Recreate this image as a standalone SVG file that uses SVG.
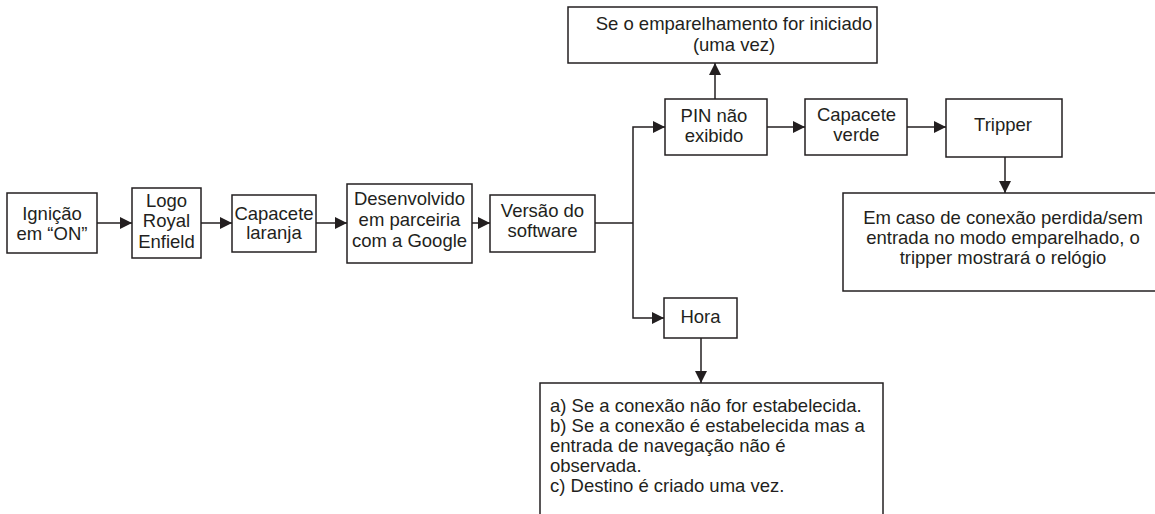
<svg xmlns="http://www.w3.org/2000/svg" width="1155" height="514" viewBox="0 0 1155 514">
<defs>
<marker id="ah" markerUnits="userSpaceOnUse" markerWidth="12" markerHeight="12" refX="12" refY="6" orient="auto">
<path d="M0,0 L12,6 L0,12 z" fill="#231f20"/>
</marker>
<style>
rect{fill:#fff;stroke:#231f20;stroke-width:1.5}
text{font-family:"Liberation Sans",Arial,sans-serif;font-size:18.5px;fill:#231f20}
.c{text-anchor:middle}
#connectors path{fill:none;stroke:#231f20;stroke-width:1.5}
.a{marker-end:url(#ah)}
</style>
</defs>
<rect x="0" y="0" width="1155" height="514" style="fill:#fff;stroke:none"/>
<g id="connectors">
<path class="a" d="M97,223 H132"/>
<path class="a" d="M201,223 H232"/>
<path class="a" d="M316,223 H347"/>
<path class="a" d="M472,223 H490"/>
<path d="M595,223 H633"/>
<path class="a" d="M633,223 V127 H665"/>
<path class="a" d="M633,223 V318 H664"/>
<path class="a" d="M715,99 V63"/>
<path class="a" d="M767,127 H805"/>
<path class="a" d="M907,127 H946"/>
<path class="a" d="M1005,157 V193"/>
<path class="a" d="M701,338 V383"/>
</g>
<g id="n1"><rect x="7" y="193" width="90" height="60"/><text class="c" x="52" y="220">Ignição</text><text class="c" x="52" y="240">em “ON”</text></g>
<g id="n2"><rect x="132" y="188" width="69" height="70"/><text class="c" x="166.5" y="206.5">Logo</text><text class="c" x="166.5" y="227">Royal</text><text class="c" x="166.5" y="247.5">Enfield</text></g>
<g id="n3"><rect x="232" y="195" width="84" height="57"/><text class="c" x="274" y="219.5">Capacete</text><text class="c" x="274" y="238.5">laranja</text></g>
<g id="n4"><rect x="347" y="184" width="125" height="79"/><text class="c" x="409.5" y="205">Desenvolvido</text><text class="c" x="409.5" y="226">em parceiria</text><text class="c" x="409.5" y="246.5">com a Google</text></g>
<g id="n5"><rect x="490" y="195" width="105" height="57"/><text class="c" x="542.5" y="217">Versão do</text><text class="c" x="542.5" y="237">software</text></g>
<g id="n6"><rect x="568" y="7" width="309" height="56"/><text class="c" x="734" y="30">Se o emparelhamento for iniciado</text><text class="c" x="734" y="51">(uma vez)</text></g>
<g id="n7"><rect x="665" y="99" width="102" height="56"/><text class="c" x="714" y="122">PIN não</text><text class="c" x="714" y="142">exibido</text></g>
<g id="n8"><rect x="805" y="99" width="102" height="56"/><text class="c" x="856.5" y="121">Capacete</text><text class="c" x="856.5" y="141">verde</text></g>
<g id="n9"><rect x="946" y="99" width="116" height="58"/><text class="c" x="1003" y="131">Tripper</text></g>
<g id="n10"><rect x="843" y="193" width="320" height="98"/><text class="c" x="1003" y="223.5">Em caso de conexão perdida/sem</text><text class="c" x="1003" y="243.5">entrada no modo emparelhado, o</text><text class="c" x="1003" y="263.5">tripper mostrará o relógio</text></g>
<g id="n11"><rect x="664" y="298" width="73" height="40"/><text class="c" x="700.5" y="322.5">Hora</text></g>
<g id="n12"><rect x="540" y="383" width="343" height="150"/><text x="550" y="412">a) Se a conexão não for estabelecida.</text><text x="550" y="432">b) Se a conexão é estabelecida mas a</text><text x="550" y="452">entrada de navegação não é</text><text x="550" y="472">observada.</text><text x="550" y="492">c) Destino é criado uma vez.</text></g>
</svg>
